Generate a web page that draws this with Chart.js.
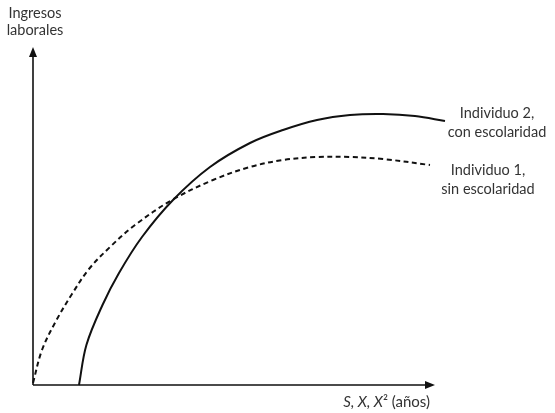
<!DOCTYPE html>
<html>
<head>
<meta charset="utf-8">
<script src="https://cdn.jsdelivr.net/npm/chart.js@4.4.1/dist/chart.umd.min.js"></script>
<style>
  html, body { margin: 0; padding: 0; background: #fff; }
  #wrap { width: 555px; height: 413px; position: relative; }
</style>
</head>
<body>
<div id="wrap"><canvas id="chart"></canvas></div>
<script>
// years (S, X) on x, labour income on y, arbitrary units
const conX = [4.6, 5.34, 6.95, 8.6, 10.9, 14.0, 17.7, 21.7, 25.0, 28.4, 31.7, 35.0, 38.2, 41.2];
const conY = [0, 4.0, 8.0, 11.2, 14.8, 18.5, 21.8, 24.2, 25.5, 26.5, 27.0, 27.1, 26.9, 26.4];
const sinX = [0, 0.9, 2.3, 3.9, 5.6, 7.7, 10.2, 13.9, 18.0, 21.7, 25.0, 28.4, 31.7, 35.0, 39.7];
const sinY = [0.2, 3.5, 6.4, 9.1, 11.6, 13.8, 16.0, 18.5, 20.5, 21.8, 22.5, 22.8, 22.8, 22.6, 22.0];
const seriesLabels = [['Individuo 2,', 'con escolaridad'], ['Individuo 1,', 'sin escolaridad']];
const yTitle = ['Ingresos', 'laborales'];

const FONT = 'Lato, "Open Sans", sans-serif';
const INK = '#111';
const TXT = '#333';

function pts(xs, ys) {
  return xs.map((x, i) => ({ x: x, y: ys[i] }));
}

const decor = {
  id: 'decor',
  afterDraw(chart) {
    const ctx = chart.ctx;
    const xs = chart.scales.x, ys = chart.scales.y;
    const x0 = xs.getPixelForValue(0), y0 = ys.getPixelForValue(0);
    const xEnd = xs.getPixelForValue(xs.max), yEnd = ys.getPixelForValue(ys.max);
    ctx.save();
    // axes
    ctx.strokeStyle = INK;
    ctx.fillStyle = INK;
    ctx.lineWidth = 1.6;
    ctx.beginPath();
    ctx.moveTo(x0, y0); ctx.lineTo(xEnd - 6, y0);
    ctx.moveTo(x0, y0); ctx.lineTo(x0, yEnd + 6);
    ctx.stroke();
    // arrow heads
    ctx.beginPath();
    ctx.moveTo(xEnd, y0); ctx.lineTo(xEnd - 10, y0 - 4); ctx.lineTo(xEnd - 10, y0 + 4);
    ctx.closePath(); ctx.fill();
    ctx.beginPath();
    ctx.moveTo(x0, yEnd); ctx.lineTo(x0 - 4, yEnd + 10); ctx.lineTo(x0 + 4, yEnd + 10);
    ctx.closePath(); ctx.fill();

    // texts
    ctx.fillStyle = TXT;
    ctx.textAlign = 'center';
    ctx.textBaseline = 'middle';
    ctx.font = '14.5px ' + FONT;
    ctx.fillText(yTitle[0], x0 + 2, 13);
    ctx.fillText(yTitle[1], x0 + 2, 30);

    chart.data.datasets.forEach((ds, i) => {
      const last = ds.data[ds.data.length - 1];
      const px = xs.getPixelForValue(last.x), py = ys.getPixelForValue(last.y);
      const lines = seriesLabels[i];
      const cx = i === 0 ? px + 52 : px + 58;
      const cy = i === 0 ? py - 8 : py + 5;
      ctx.fillText(lines[0], cx, cy);
      ctx.fillText(lines[1], cx, cy + 19);
    });

    // x axis title: S, X, X² (años)
    const parts = [['S, X, X', 'italic '], ['²', ''], [' (años)', '']];
    let w = 0;
    parts.forEach(p => { ctx.font = p[1] + '15px ' + FONT; w += ctx.measureText(p[0]).width; });
    let tx = xEnd - 5 - w;
    ctx.textAlign = 'left';
    parts.forEach(p => {
      ctx.font = p[1] + '15px ' + FONT;
      ctx.fillText(p[0], tx, y0 + 17);
      tx += ctx.measureText(p[0]).width;
    });
    ctx.restore();
  }
};

new Chart(document.getElementById('chart'), {
  type: 'line',
  data: {
    datasets: [
      {
        label: seriesLabels[0].join(' '),
        data: pts(conX, conY),
        borderColor: INK,
        borderWidth: 2,
        pointRadius: 0,
        tension: 0.35,
        clip: false
      },
      {
        label: seriesLabels[1].join(' '),
        data: pts(sinX, sinY),
        borderColor: INK,
        borderWidth: 2,
        borderDash: [5, 3.5],
        pointRadius: 0,
        tension: 0.35,
        clip: false
      }
    ]
  },
  options: {
    responsive: true,
    maintainAspectRatio: false,
    animation: false,
    layout: { padding: { left: 33, right: 120, top: 47, bottom: 28 } },
    plugins: { legend: { display: false }, tooltip: { enabled: false } },
    scales: {
      x: {
        type: 'linear', min: 0, max: 40.2,
        display: true,
        grid: { display: false, drawTicks: false },
        border: { display: false },
        ticks: { display: false }
      },
      y: {
        min: 0, max: 33.8,
        display: true,
        grid: { display: false, drawTicks: false },
        border: { display: false },
        ticks: { display: false }
      }
    }
  },
  plugins: [decor]
});
</script>
</body>
</html>
